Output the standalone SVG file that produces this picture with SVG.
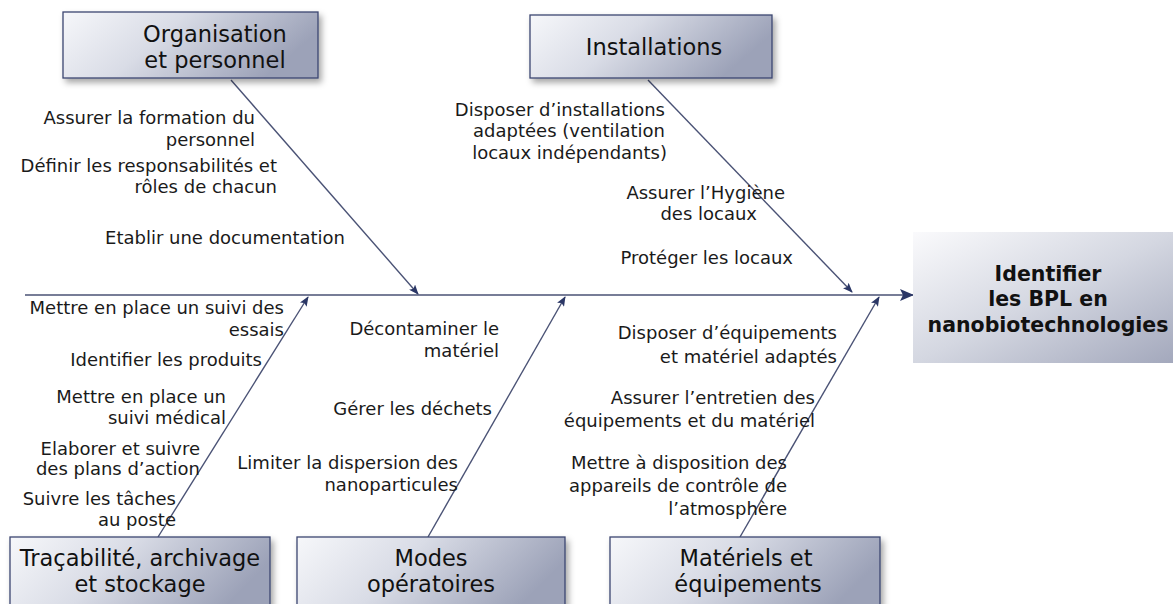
<svg xmlns="http://www.w3.org/2000/svg" width="1173" height="604" viewBox="0 0 1173 604">
<style>
.lbl{font-family:"DejaVu Sans","Verdana",sans-serif;font-size:18px;fill:#1a1a1a;text-anchor:end}
.ttl{font-family:"DejaVu Sans","Verdana",sans-serif;font-size:22.5px;fill:#111;text-anchor:middle}
.main{font-family:"DejaVu Sans","Verdana",sans-serif;font-size:20.5px;font-weight:bold;fill:#111;text-anchor:middle}
.box{fill:url(#g);stroke:#3c4670;stroke-width:1.3;filter:url(#sh)}
.ln{stroke:#4a5275;stroke-width:1.4;fill:none;marker-end:url(#ah)}
</style>
<defs>
<linearGradient id="g" x1="0" y1="0" x2="1" y2="0.3">
<stop offset="0" stop-color="#f6f7fa"/>
<stop offset="0.45" stop-color="#d9dce6"/>
<stop offset="1" stop-color="#9ca2b8"/>
</linearGradient>
<linearGradient id="g2" x1="0" y1="0" x2="1" y2="1">
<stop offset="0" stop-color="#fafafc"/>
<stop offset="0.5" stop-color="#d4d7e1"/>
<stop offset="1" stop-color="#a3a8bc"/>
</linearGradient>
<filter id="sh" x="-10%" y="-20%" width="130%" height="160%">
<feDropShadow dx="3" dy="4" stdDeviation="3" flood-color="#000" flood-opacity="0.35"/>
</filter>
<marker id="ah" markerWidth="10" markerHeight="8" refX="9" refY="4" orient="auto" markerUnits="userSpaceOnUse">
<path d="M0,0 L10,4 L0,8 L2,4 Z" fill="#2b3766"/>
</marker>
<marker id="ah2" markerWidth="14" markerHeight="12" refX="13" refY="6" orient="auto" markerUnits="userSpaceOnUse">
<path d="M0,0 L14,6 L0,12 L3,6 Z" fill="#2b3766"/>
</marker>
</defs>

<g id="connectors">
<line x1="25" y1="295" x2="913" y2="295" stroke="#4a5275" stroke-width="1.4" marker-end="url(#ah2)"/>
<line class="ln" x1="231" y1="80" x2="418" y2="294"/>
<line class="ln" x1="648" y1="80" x2="852" y2="292"/>
<line class="ln" x1="158" y1="537" x2="308" y2="297"/>
<line class="ln" x1="428" y1="537" x2="565" y2="297"/>
<line class="ln" x1="740" y1="537" x2="879" y2="297"/>
</g>

<g id="node-organisation">
<rect class="box" x="63" y="12" width="255" height="66"/>
<text class="ttl" x="215" y="42">Organisation</text>
<text class="ttl" x="215" y="68">et personnel</text>
</g>
<g id="node-installations">
<rect class="box" x="530" y="15" width="242" height="63"/>
<text class="ttl" x="654" y="55">Installations</text>
</g>
<g id="node-tracabilite">
<rect class="box" x="10" y="537" width="260" height="80"/>
<text class="ttl" x="140" y="566">Traçabilité, archivage</text>
<text class="ttl" x="140" y="592">et stockage</text>
</g>
<g id="node-modes">
<rect class="box" x="297" y="537" width="268" height="80"/>
<text class="ttl" x="431" y="566">Modes</text>
<text class="ttl" x="431" y="592">opératoires</text>
</g>
<g id="node-materiels">
<rect class="box" x="610" y="537" width="270" height="80"/>
<text class="ttl" x="746" y="566">Matériels et</text>
<text class="ttl" x="748" y="592">équipements</text>
</g>
<g id="node-effect">
<rect x="913" y="232" width="262" height="131" fill="url(#g2)"/>
<text class="main" x="1048" y="281">Identifier</text>
<text class="main" x="1048" y="306">les BPL en</text>
<text class="main" x="1048" y="332">nanobiotechnologies</text>
</g>

<g id="labels-organisation">
<text class="lbl" x="255" y="124">Assurer la formation du</text>
<text class="lbl" x="255" y="146">personnel</text>
<text class="lbl" x="277" y="172">Définir les responsabilités et</text>
<text class="lbl" x="277" y="193">rôles de chacun</text>
<text class="lbl" x="345" y="244">Etablir une documentation</text>
</g>
<g id="labels-installations">
<text class="lbl" x="665" y="116">Disposer d’installations</text>
<text class="lbl" x="665" y="137">adaptées (ventilation</text>
<text class="lbl" x="667" y="159">locaux indépendants)</text>
<text class="lbl" x="785" y="199">Assurer l’Hygiène</text>
<text class="lbl" x="757" y="220">des locaux</text>
<text class="lbl" x="793" y="264">Protéger les locaux</text>
</g>
<g id="labels-tracabilite">
<text class="lbl" x="284" y="314">Mettre en place un suivi des</text>
<text class="lbl" x="284" y="336">essais</text>
<text class="lbl" x="262" y="366">Identifier les produits</text>
<text class="lbl" x="226" y="403">Mettre en place un</text>
<text class="lbl" x="226" y="424">suivi médical</text>
<text class="lbl" x="200" y="455">Elaborer et suivre</text>
<text class="lbl" x="200" y="475">des plans d’action</text>
<text class="lbl" x="176" y="505">Suivre les tâches</text>
<text class="lbl" x="176" y="526">au poste</text>
</g>
<g id="labels-modes">
<text class="lbl" x="499" y="335">Décontaminer le</text>
<text class="lbl" x="499" y="357">matériel</text>
<text class="lbl" x="492" y="415">Gérer les déchets</text>
<text class="lbl" x="458" y="469">Limiter la dispersion des</text>
<text class="lbl" x="458" y="491">nanoparticules</text>
</g>
<g id="labels-materiels">
<text class="lbl" x="837" y="339">Disposer d’équipements</text>
<text class="lbl" x="837" y="363">et matériel adaptés</text>
<text class="lbl" x="815" y="404">Assurer l’entretien des</text>
<text class="lbl" x="815" y="427">équipements et du matériel</text>
<text class="lbl" x="787" y="469">Mettre à disposition des</text>
<text class="lbl" x="787" y="492">appareils de contrôle de</text>
<text class="lbl" x="787" y="515">l’atmosphère</text>
</g>
</svg>
